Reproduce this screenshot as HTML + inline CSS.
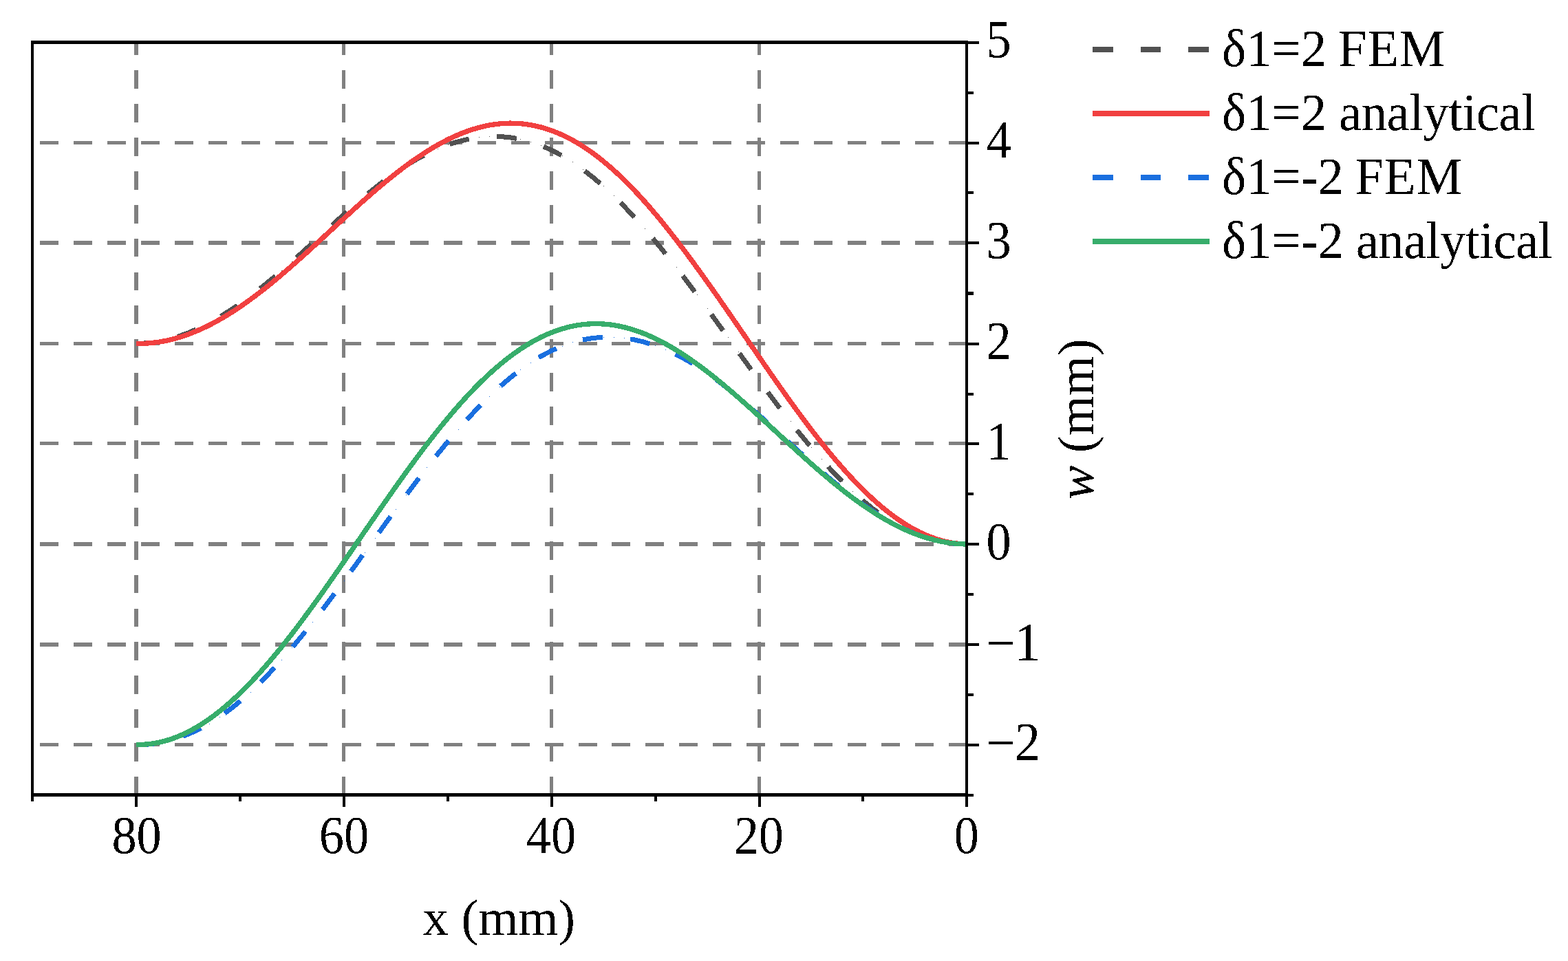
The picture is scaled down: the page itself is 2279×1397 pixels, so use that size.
<!DOCTYPE html>
<html lang="en"><head><meta charset="utf-8"><title>w (mm) vs x (mm)</title>
<style>html,body{margin:0;padding:0;background:#fff;overflow:hidden;}svg{display:block;}text{filter:url(#bin);font-family:"Liberation Serif","DejaVu Serif",serif;fill:#000;}</style></head><body>
<svg width="2279" height="1397" viewBox="0 0 2279 1397">
<defs><filter id="bin" x="-10%" y="-10%" width="120%" height="120%" color-interpolation-filters="sRGB"><feComponentTransfer><feFuncA type="discrete" tableValues="0 1"/></feComponentTransfer></filter></defs>
<rect x="0" y="0" width="2279" height="1397" fill="#fff"/>
<g stroke="#808080" fill="none" shape-rendering="crispEdges">
<line x1="198.0" y1="1155.8" x2="198.0" y2="62" stroke-width="6" stroke-dasharray="26.8 22.1"/>
<line x1="499.5" y1="1155.8" x2="499.5" y2="62" stroke-width="5" stroke-dasharray="26.8 22.1"/>
<line x1="801.5" y1="1155.8" x2="801.5" y2="62" stroke-width="5" stroke-dasharray="26.8 22.1"/>
<line x1="1103.5" y1="1155.8" x2="1103.5" y2="62" stroke-width="5" stroke-dasharray="26.8 22.1"/>
<line x1="58" y1="207.5" x2="1405" y2="207.5" stroke-width="5" stroke-dasharray="27 21.91"/>
<line x1="58" y1="353.0" x2="1405" y2="353.0" stroke-width="6" stroke-dasharray="27 21.91"/>
<line x1="58" y1="499.5" x2="1405" y2="499.5" stroke-width="5" stroke-dasharray="27 21.91"/>
<line x1="58" y1="644.5" x2="1405" y2="644.5" stroke-width="5" stroke-dasharray="27 21.91"/>
<line x1="58" y1="791.0" x2="1405" y2="791.0" stroke-width="6" stroke-dasharray="27 21.91"/>
<line x1="58" y1="937.0" x2="1405" y2="937.0" stroke-width="6" stroke-dasharray="27 21.91"/>
<line x1="58" y1="1082.5" x2="1405" y2="1082.5" stroke-width="5" stroke-dasharray="27 21.91"/>
</g>
<g fill="none" stroke-width="7.00" stroke-linejoin="round" shape-rendering="crispEdges">
<path d="M1405,791h1v1h-1zM1390,790h1v1h-1zM1375,788h1v1h-1zM1360,785h1v1h-1zM1345,781h1v1h-1zM1330,775h1v1h-1zM1314,768h1v1h-1zM1299,760h1v1h-1zM1284,750h1v1h-1zM1269,739h1v1h-1zM1254,727h1v1h-1zM1239,714h1v1h-1zM1224,699h1v1h-1zM1209,684h1v1h-1zM1194,667h1v1h-1zM1179,650h1v1h-1zM1164,631h1v1h-1zM1149,612h1v1h-1zM1133,593h1v1h-1zM1118,573h1v1h-1zM1103,553h1v1h-1zM1088,532h1v1h-1zM1073,511h1v1h-1zM1058,490h1v1h-1zM1043,469h1v1h-1zM1028,448h1v1h-1zM1013,428h1v1h-1zM998,407h1v1h-1zM983,388h1v1h-1zM967,369h1v1h-1zM952,350h1v1h-1zM937,332h1v1h-1zM922,315h1v1h-1zM907,299h1v1h-1zM892,284h1v1h-1zM877,270h1v1h-1zM862,257h1v1h-1zM847,246h1v1h-1zM832,235h1v1h-1zM817,226h1v1h-1zM802,218h1v1h-1zM786,211h1v1h-1zM771,206h1v1h-1zM756,202h1v1h-1zM741,199h1v1h-1zM726,198h1v1h-1zM711,198h1v1h-1zM696,199h1v1h-1zM681,202h1v1h-1zM666,205h1v1h-1zM651,210h1v1h-1zM636,216h1v1h-1zM620,223h1v1h-1zM605,231h1v1h-1zM590,240h1v1h-1zM575,250h1v1h-1zM560,261h1v1h-1zM545,273h1v1h-1zM530,285h1v1h-1zM515,298h1v1h-1zM500,311h1v1h-1zM485,325h1v1h-1zM470,339h1v1h-1zM454,353h1v1h-1zM439,366h1v1h-1zM424,380h1v1h-1zM409,393h1v1h-1zM394,406h1v1h-1zM379,418h1v1h-1zM364,430h1v1h-1zM349,441h1v1h-1zM334,451h1v1h-1zM319,461h1v1h-1zM304,469h1v1h-1zM289,477h1v1h-1zM273,483h1v1h-1zM258,489h1v1h-1zM243,493h1v1h-1zM228,496h1v1h-1zM213,498h1v1h-1zM198,499h1v1h-1z" fill="#515151" stroke="none"/>
<path d="M1405.00,791.19 L1389.91,790.58 L1374.83,788.74 L1359.74,785.66 L1344.65,781.33 L1329.56,775.70 L1314.47,768.77 L1299.39,760.50 L1284.30,750.90 L1269.21,739.98 L1254.12,727.77 L1239.04,714.34 L1223.95,699.76 L1208.86,684.12 L1193.78,667.52 L1178.69,650.05 L1163.60,631.81 L1148.51,612.90 L1133.42,593.41 L1118.34,573.42 L1103.25,553.03 L1088.16,532.34 L1073.08,511.45 L1057.99,490.47 L1042.90,469.51 L1027.81,448.69 L1012.72,428.13 L997.64,407.93 L982.55,388.22 L967.46,369.08 L952.38,350.59 L937.29,332.86 L922.20,315.94 L907.11,299.90 L892.02,284.82 L876.94,270.77 L861.85,257.81 L846.76,246.01 L831.67,235.43 L816.59,226.13 L801.50,218.14 L786.41,211.51 L771.32,206.23 L756.24,202.31 L741.15,199.73 L726.06,198.46 L710.98,198.47 L695.89,199.73 L680.80,202.19 L665.71,205.82 L650.62,210.60 L635.54,216.49 L620.45,223.48 L605.36,231.53 L590.27,240.59 L575.19,250.60 L560.10,261.50 L545.01,273.19 L529.92,285.56 L514.84,298.49 L499.75,311.85 L484.66,325.50 L469.57,339.32 L454.49,353.15 L439.40,366.89 L424.31,380.42 L409.23,393.63 L394.14,406.42 L379.05,418.70 L363.96,430.40 L348.88,441.42 L333.79,451.70 L318.70,461.16 L303.61,469.73 L288.52,477.34 L273.44,483.93 L258.35,489.43 L243.26,493.78 L228.17,496.93 L213.09,498.85 L198.00,499.49" stroke="#515151" stroke-dasharray="29.00 40.78" stroke-dashoffset="0.50"/>
<path d="M1405.00,790.99 L1397.46,790.70 L1389.91,790.00 L1382.37,788.89 L1374.83,787.39 L1367.28,785.48 L1359.74,783.17 L1352.19,780.47 L1344.65,777.37 L1337.11,773.89 L1329.56,770.02 L1322.02,765.78 L1314.47,761.16 L1306.93,756.18 L1299.39,750.84 L1291.84,745.15 L1284.30,739.11 L1276.76,732.74 L1269.21,726.05 L1261.67,719.04 L1254.12,711.72 L1246.58,704.10 L1239.04,696.19 L1231.49,688.01 L1223.95,679.57 L1216.41,670.87 L1208.86,661.93 L1201.32,652.76 L1193.78,643.37 L1186.23,633.78 L1178.69,624.00 L1171.14,614.04 L1163.60,603.92 L1156.06,593.64 L1148.51,583.23 L1140.97,572.69 L1133.42,562.05 L1125.88,551.31 L1118.34,540.50 L1110.79,529.61 L1103.25,518.68 L1095.71,507.71 L1088.16,496.71 L1080.62,485.71 L1073.08,474.72 L1065.53,463.75 L1057.99,452.81 L1050.44,441.93 L1042.90,431.10 L1035.36,420.36 L1027.81,409.71 L1020.27,399.16 L1012.72,388.72 L1005.18,378.40 L997.64,368.22 L990.09,358.19 L982.55,348.33 L975.01,338.65 L967.46,329.15 L959.92,319.87 L952.38,310.80 L944.83,301.96 L937.29,293.36 L929.74,285.01 L922.20,276.92 L914.66,269.11 L907.11,261.58 L899.57,254.34 L892.02,247.40 L884.48,240.76 L876.94,234.44 L869.39,228.45 L861.85,222.78 L854.31,217.44 L846.76,212.44 L839.22,207.79 L831.67,203.48 L824.13,199.51 L816.59,195.90 L809.04,192.64 L801.50,189.74 L793.96,187.19 L786.41,184.98 L778.87,183.13 L771.32,181.64 L763.78,180.49 L756.24,179.69 L748.69,179.23 L741.15,179.12 L733.61,179.35 L726.06,179.92 L718.52,180.82 L710.98,182.05 L703.43,183.60 L695.89,185.47 L688.34,187.65 L680.80,190.14 L673.26,192.92 L665.71,196.00 L658.17,199.36 L650.62,202.99 L643.08,206.89 L635.54,211.04 L627.99,215.45 L620.45,220.09 L612.91,224.96 L605.36,230.04 L597.82,235.33 L590.27,240.82 L582.73,246.49 L575.19,252.34 L567.64,258.34 L560.10,264.50 L552.56,270.79 L545.01,277.20 L537.47,283.73 L529.92,290.35 L522.38,297.06 L514.84,303.85 L507.29,310.70 L499.75,317.59 L492.21,324.52 L484.66,331.47 L477.12,338.43 L469.57,345.38 L462.03,352.32 L454.49,359.23 L446.94,366.10 L439.40,372.91 L431.86,379.65 L424.31,386.32 L416.77,392.89 L409.23,399.36 L401.68,405.71 L394.14,411.93 L386.59,418.02 L379.05,423.96 L371.51,429.74 L363.96,435.34 L356.42,440.77 L348.88,446.01 L341.33,451.05 L333.79,455.88 L326.24,460.49 L318.70,464.88 L311.16,469.03 L303.61,472.95 L296.07,476.61 L288.52,480.03 L280.98,483.18 L273.44,486.07 L265.89,488.69 L258.35,491.03 L250.81,493.09 L243.26,494.88 L235.72,496.37 L228.17,497.58 L220.63,498.49 L213.09,499.11 L205.54,499.44 L198.00,499.50" stroke="#F14040" stroke-width="7.30"/>
<path d="M1405,791h1v1h-1zM1390,790h1v1h-1zM1375,788h1v1h-1zM1360,785h1v1h-1zM1345,781h1v1h-1zM1330,775h1v1h-1zM1314,769h1v1h-1zM1299,761h1v1h-1zM1284,752h1v1h-1zM1269,743h1v1h-1zM1254,733h1v1h-1zM1239,722h1v1h-1zM1224,710h1v1h-1zM1209,698h1v1h-1zM1194,685h1v1h-1zM1179,672h1v1h-1zM1164,658h1v1h-1zM1149,644h1v1h-1zM1133,631h1v1h-1zM1118,617h1v1h-1zM1103,603h1v1h-1zM1088,590h1v1h-1zM1073,577h1v1h-1zM1058,564h1v1h-1zM1043,553h1v1h-1zM1028,542h1v1h-1zM1013,532h1v1h-1zM998,523h1v1h-1zM983,515h1v1h-1zM967,508h1v1h-1zM952,502h1v1h-1zM937,497h1v1h-1zM922,493h1v1h-1zM907,491h1v1h-1zM892,490h1v1h-1zM877,490h1v1h-1zM862,491h1v1h-1zM847,494h1v1h-1zM832,497h1v1h-1zM817,503h1v1h-1zM802,509h1v1h-1zM786,517h1v1h-1zM771,527h1v1h-1zM756,537h1v1h-1zM741,549h1v1h-1zM726,562h1v1h-1zM711,576h1v1h-1zM696,591h1v1h-1zM681,607h1v1h-1zM666,624h1v1h-1zM651,642h1v1h-1zM636,660h1v1h-1zM620,679h1v1h-1zM605,699h1v1h-1zM590,719h1v1h-1zM575,740h1v1h-1zM560,761h1v1h-1zM545,782h1v1h-1zM530,803h1v1h-1zM515,824h1v1h-1zM500,844h1v1h-1zM485,865h1v1h-1zM470,885h1v1h-1zM454,904h1v1h-1zM439,923h1v1h-1zM424,941h1v1h-1zM409,959h1v1h-1zM394,975h1v1h-1zM379,991h1v1h-1zM364,1006h1v1h-1zM349,1019h1v1h-1zM334,1031h1v1h-1zM319,1042h1v1h-1zM304,1052h1v1h-1zM289,1060h1v1h-1zM273,1067h1v1h-1zM258,1073h1v1h-1zM243,1077h1v1h-1zM228,1080h1v1h-1zM213,1082h1v1h-1zM198,1082h1v1h-1z" fill="#1A6FDF" stroke="none"/>
<path d="M1405.00,791.19 L1389.91,790.55 L1374.83,788.63 L1359.74,785.48 L1344.65,781.13 L1329.56,775.63 L1314.47,769.04 L1299.39,761.43 L1284.30,752.86 L1269.21,743.40 L1254.12,733.12 L1239.04,722.10 L1223.95,710.40 L1208.86,698.12 L1193.78,685.33 L1178.69,672.12 L1163.60,658.59 L1148.51,644.85 L1133.42,631.02 L1118.34,617.20 L1103.25,603.55 L1088.16,590.19 L1073.08,577.26 L1057.99,564.89 L1042.90,553.20 L1027.81,542.30 L1012.72,532.29 L997.64,523.23 L982.55,515.18 L967.46,508.19 L952.38,502.30 L937.29,497.52 L922.20,493.89 L907.11,491.43 L892.02,490.17 L876.94,490.16 L861.85,491.43 L846.76,494.01 L831.67,497.93 L816.59,503.21 L801.50,509.84 L786.41,517.83 L771.32,527.13 L756.24,537.71 L741.15,549.51 L726.06,562.47 L710.98,576.52 L695.89,591.60 L680.80,607.64 L665.71,624.56 L650.62,642.29 L635.54,660.78 L620.45,679.92 L605.36,699.63 L590.27,719.83 L575.19,740.39 L560.10,761.21 L545.01,782.17 L529.92,803.15 L514.84,824.04 L499.75,844.73 L484.66,865.12 L469.57,885.11 L454.49,904.60 L439.40,923.51 L424.31,941.75 L409.23,959.22 L394.14,975.82 L379.05,991.46 L363.96,1006.04 L348.88,1019.47 L333.79,1031.68 L318.70,1042.60 L303.61,1052.20 L288.52,1060.47 L273.44,1067.40 L258.35,1073.03 L243.26,1077.36 L228.17,1080.44 L213.09,1082.28 L198.00,1082.89" stroke="#1A6FDF" stroke-dasharray="29.00 40.35" stroke-dashoffset="0.00"/>
<path d="M1405.00,790.99 L1397.46,790.78 L1389.91,790.28 L1382.37,789.48 L1374.83,788.39 L1367.28,787.01 L1359.74,785.34 L1352.19,783.39 L1344.65,781.16 L1337.11,778.65 L1329.56,775.87 L1322.02,772.82 L1314.47,769.51 L1306.93,765.94 L1299.39,762.13 L1291.84,758.07 L1284.30,753.77 L1276.76,749.25 L1269.21,744.50 L1261.67,739.55 L1254.12,734.39 L1246.58,729.04 L1239.04,723.50 L1231.49,717.79 L1223.95,711.91 L1216.41,705.89 L1208.86,699.71 L1201.32,693.41 L1193.78,686.99 L1186.23,680.46 L1178.69,673.83 L1171.14,667.11 L1163.60,660.33 L1156.06,653.48 L1148.51,646.59 L1140.97,639.66 L1133.42,632.71 L1125.88,625.75 L1118.34,618.80 L1110.79,611.86 L1103.25,604.95 L1095.71,598.08 L1088.16,591.27 L1080.62,584.53 L1073.08,577.87 L1065.53,571.30 L1057.99,564.84 L1050.44,558.50 L1042.90,552.29 L1035.36,546.22 L1027.81,540.31 L1020.27,534.57 L1012.72,529.00 L1005.18,523.61 L997.64,518.43 L990.09,513.45 L982.55,508.70 L975.01,504.18 L967.46,499.91 L959.92,495.88 L952.38,492.13 L944.83,488.65 L937.29,485.45 L929.74,482.54 L922.20,479.93 L914.66,477.63 L907.11,475.65 L899.57,473.99 L892.02,472.65 L884.48,471.64 L876.94,470.98 L869.39,470.65 L861.85,470.67 L854.31,471.03 L846.76,471.75 L839.22,472.81 L831.67,474.23 L824.13,476.00 L816.59,478.12 L809.04,480.59 L801.50,483.41 L793.96,486.58 L786.41,490.10 L778.87,493.97 L771.32,498.17 L763.78,502.72 L756.24,507.61 L748.69,512.82 L741.15,518.37 L733.61,524.24 L726.06,530.42 L718.52,536.91 L710.98,543.71 L703.43,550.80 L695.89,558.19 L688.34,565.85 L680.80,573.78 L673.26,581.98 L665.71,590.43 L658.17,599.12 L650.62,608.05 L643.08,617.20 L635.54,626.56 L627.99,636.11 L620.45,645.86 L612.91,655.78 L605.36,665.87 L597.82,676.11 L590.27,686.48 L582.73,696.98 L575.19,707.59 L567.64,718.30 L560.10,729.09 L552.56,739.95 L545.01,750.87 L537.47,761.83 L529.92,772.81 L522.38,783.81 L514.84,794.81 L507.29,805.79 L499.75,816.74 L492.21,827.65 L484.66,838.49 L477.12,849.27 L469.57,859.95 L462.03,870.53 L454.49,880.99 L446.94,891.32 L439.40,901.51 L431.86,911.54 L424.31,921.39 L416.77,931.06 L409.23,940.53 L401.68,949.79 L394.14,958.82 L386.59,967.62 L379.05,976.17 L371.51,984.46 L363.96,992.47 L356.42,1000.20 L348.88,1007.65 L341.33,1014.78 L333.79,1021.61 L326.24,1028.11 L318.70,1034.28 L311.16,1040.10 L303.61,1045.59 L296.07,1050.71 L288.52,1055.47 L280.98,1059.87 L273.44,1063.89 L265.89,1067.52 L258.35,1070.77 L250.81,1073.64 L243.26,1076.10 L235.72,1078.17 L228.17,1079.84 L220.63,1081.11 L213.09,1081.97 L205.54,1082.42 L198.00,1082.50" stroke="#37AD6B" stroke-width="7.30"/>
</g>
<g fill="#000" shape-rendering="crispEdges">
<rect x="45" y="59" width="4" height="1106"/>
<rect x="1403" y="59" width="4" height="1114"/>
<rect x="45" y="59" width="1362" height="5"/>
<rect x="45" y="1153" width="1362" height="5"/>
<rect x="196" y="1155" width="4" height="18"/>
<rect x="347" y="1155" width="4" height="10"/>
<rect x="498" y="1155" width="4" height="18"/>
<rect x="649" y="1155" width="4" height="10"/>
<rect x="800" y="1155" width="4" height="18"/>
<rect x="951" y="1155" width="4" height="10"/>
<rect x="1102" y="1155" width="4" height="18"/>
<rect x="1252" y="1155" width="4" height="10"/>
<rect x="1405" y="60" width="18" height="4"/>
<rect x="1405" y="133" width="10" height="4"/>
<rect x="1405" y="206" width="18" height="4"/>
<rect x="1405" y="278" width="10" height="4"/>
<rect x="1405" y="351" width="18" height="4"/>
<rect x="1405" y="424" width="10" height="5"/>
<rect x="1405" y="498" width="18" height="4"/>
<rect x="1405" y="571" width="10" height="4"/>
<rect x="1405" y="643" width="18" height="4"/>
<rect x="1405" y="716" width="10" height="4"/>
<rect x="1405" y="789" width="18" height="4"/>
<rect x="1405" y="862" width="10" height="4"/>
<rect x="1405" y="935" width="18" height="4"/>
<rect x="1405" y="1008" width="10" height="4"/>
<rect x="1405" y="1081" width="18" height="4"/>
<rect x="1405" y="1154" width="10" height="4"/>
</g>
<g font-size="74.60">
<text transform="translate(198.55,1240.30) scale(0.9700,1.0400)" text-anchor="middle">80</text>
<text transform="translate(500.00,1240.30) scale(0.9700,1.0400)" text-anchor="middle">60</text>
<text transform="translate(800.90,1240.30) scale(0.9700,1.0400)" text-anchor="middle">40</text>
<text transform="translate(1102.80,1240.30) scale(0.9700,1.0400)" text-anchor="middle">20</text>
<text transform="translate(1404.75,1240.30) scale(0.9700,1.0400)" text-anchor="middle">0</text>
<text transform="translate(1433.60,83.30) scale(0.9700,1.0400)">5</text>
<text transform="translate(1433.60,229.10) scale(0.9700,1.0400)">4</text>
<text transform="translate(1433.60,375.00) scale(0.9700,1.0400)">3</text>
<text transform="translate(1433.60,521.00) scale(0.9700,1.0400)">2</text>
<text transform="translate(1433.60,666.70) scale(0.9700,1.0400)">1</text>
<text transform="translate(1433.60,812.90) scale(0.9700,1.0400)">0</text>
<text transform="translate(1433.43,958.90) scale(1,1.0400)"><tspan dy="1.90">−</tspan><tspan x="41.37" dy="-1.90">1</tspan></text>
<text transform="translate(1433.43,1104.10) scale(1,1.0400)"><tspan dy="1.90">−</tspan><tspan x="41.37" dy="-1.90">2</tspan></text>
</g>
<text transform="translate(725.30,1358.60) scale(1.0000,1.0000)" font-size="74.60" text-anchor="middle">x (mm)</text>
<text transform="translate(1588.70,609.50) rotate(-90) scale(1.0000,1.0000)" font-size="74.60" text-anchor="middle"><tspan font-style="italic">w</tspan> (mm)</text>
<g shape-rendering="crispEdges">
<rect x="1588" y="68" width="30" height="8" fill="#515151"/>
<rect x="1658" y="68" width="29" height="8" fill="#515151"/>
<rect x="1727" y="68" width="30" height="8" fill="#515151"/>
<rect x="1588" y="161" width="170" height="8" fill="#F14040"/>
<rect x="1588" y="254" width="30" height="8" fill="#1A6FDF"/>
<rect x="1658" y="254" width="29" height="8" fill="#1A6FDF"/>
<rect x="1727" y="254" width="30" height="8" fill="#1A6FDF"/>
<rect x="1588" y="347" width="170" height="8" fill="#37AD6B"/>
</g>
<text font-size="74.70" transform="translate(0,96.00) scale(1,1.0100)"><tspan x="1776.00" y="0">δ1=2</tspan><tspan x="1926.23" y="0" letter-spacing="0.00" xml:space="preserve"> </tspan><tspan x="1944.90" y="0" letter-spacing="1.00">FEM</tspan></text>
<text font-size="74.70" transform="translate(0,189.00) scale(1,1.0100)"><tspan x="1776.00" y="0">δ1=2</tspan><tspan x="1927.42" y="0" letter-spacing="0.00" xml:space="preserve"> </tspan><tspan x="1946.10" y="0" letter-spacing="-0.50">analytical</tspan></text>
<text font-size="74.70" transform="translate(0,282.00) scale(1,1.0100)"><tspan x="1776.00" y="0">δ1=-2</tspan><tspan x="1950.83" y="0" letter-spacing="0.00" xml:space="preserve"> </tspan><tspan x="1969.50" y="0" letter-spacing="1.00">FEM</tspan></text>
<text font-size="74.70" transform="translate(0,375.00) scale(1,1.0100)"><tspan x="1776.00" y="0">δ1=-2</tspan><tspan x="1952.03" y="0" letter-spacing="0.00" xml:space="preserve"> </tspan><tspan x="1970.70" y="0" letter-spacing="-0.50">analytical</tspan></text>
</svg></body></html>
